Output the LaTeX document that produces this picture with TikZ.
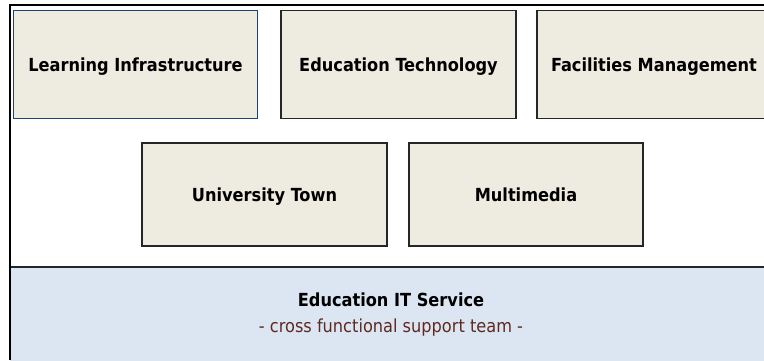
\documentclass[tikz,border=0pt]{standalone}
\usepackage{fontspec}
\setmainfont{DejaVu Sans Condensed}
\definecolor{boxfill}{HTML}{EEEBE0}
\definecolor{boxline}{HTML}{262626}
\definecolor{blueline}{HTML}{1F4175}
\definecolor{basefill}{HTML}{DCE6F2}
\definecolor{subtext}{HTML}{5E2A20}
\begin{document}
\begin{tikzpicture}[x=1pt,y=-1pt,
  lbl/.style={font=\fontsize{18}{20}\selectfont\bfseries,text=black,inner sep=0pt,text height=13.2pt,text depth=0pt},
  unit/.style={draw=boxline,line width=1.9pt,fill=boxfill,rectangle,inner sep=0pt,
    font=\fontsize{18}{20}\selectfont\bfseries,text=black,text height=13.2pt,text depth=0pt},
  base/.style={draw=none,fill=basefill,rectangle,inner sep=0pt}]
\useasboundingbox (0,0) rectangle (764,360);
\fill[white] (0,0) rectangle (764,360);
% bottom band
\node[base,minimum width=754pt,minimum height=93pt] (it) at (387,314) {};
\draw[boxline,line width=1.9pt] (it.north west) -- (it.north east);
\node[lbl] (itt) at (391,300) {Education IT Service};
\node[font=\fontsize{18}{20}\selectfont,text=subtext,inner sep=0pt,text height=13pt,text depth=0pt] (its) at (391,326) {- cross functional support team -};
% outer frame
\draw[black,line width=1.2pt] (10,360) -- (10,5) -- (764,5);
% top row
\node[unit,draw=blueline,minimum width=244pt,minimum height=108pt] (li) at (135.5,64.5) {Learning Infrastructure};
\node[unit,minimum width=235pt,minimum height=108pt] (et) at (398.5,64.5) {Education Technology};
\node[unit,minimum width=240pt,minimum height=108pt] (fm) at (657,64.5) {};
\node[lbl] (fmt) at (654,64.5) {Facilities Management};
% middle row
\node[unit,minimum width=245pt,minimum height=103pt] (ut) at (264.5,194.5) {University Town};
\node[unit,minimum width=234pt,minimum height=103pt] (mm) at (526,194.5) {Multimedia};
\end{tikzpicture}
\end{document}
